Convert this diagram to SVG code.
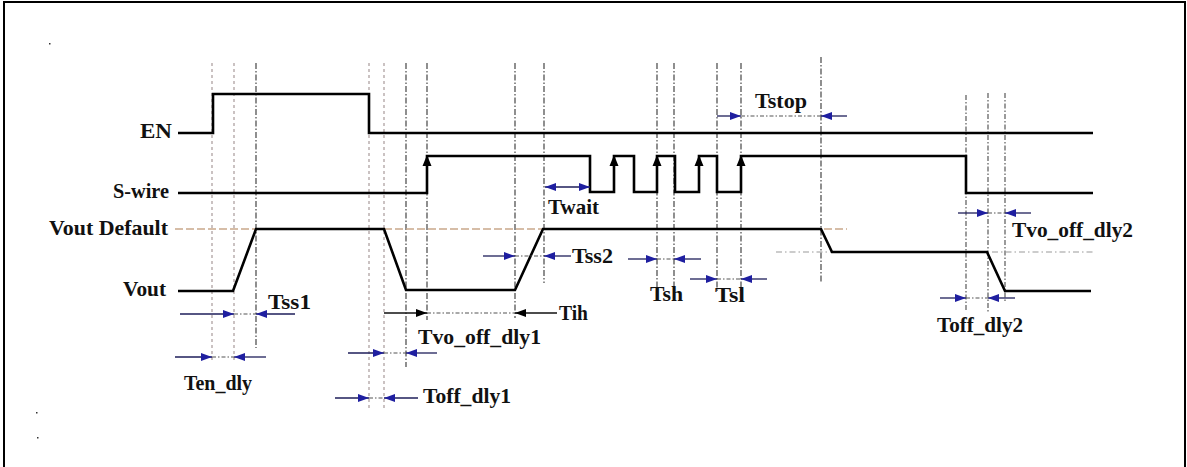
<svg xmlns="http://www.w3.org/2000/svg" width="1187" height="467" viewBox="0 0 1187 467">
<style>
text{font-family:"Liberation Serif","Times New Roman",serif;font-weight:bold;font-size:21px;fill:#111}
.wave{fill:none;stroke:#000;stroke-width:2.6;stroke-linejoin:miter}
.vl{fill:none;stroke:#a89a9a;stroke-width:1.2;stroke-dasharray:3 3}
.vd{fill:none;stroke:#333;stroke-width:1.1;stroke-dasharray:6 2 1.5 2}
.vm{fill:none;stroke:#666;stroke-width:1.3;stroke-dasharray:5 2 1.5 2}
.arr{fill:none;stroke:#1e1e5a;stroke-width:1.3;marker-end:url(#bh)}
.arrk{fill:none;stroke:#111;stroke-width:1.3;marker-end:url(#kh)}
.dd{fill:none;stroke:#555;stroke-width:1.1;stroke-dasharray:4 2 1.5 2}
.ref{fill:none;stroke:#c9a88a;stroke-width:1.3;stroke-dasharray:8 3}
.refg{fill:none;stroke:#999;stroke-width:1.2;stroke-dasharray:6 3 1.5 3}
</style>
<defs>
<marker id="bh" markerUnits="userSpaceOnUse" markerWidth="12" markerHeight="9" refX="11" refY="4" orient="auto-start-reverse"><path d="M0,0 L11,4 L0,8 z" fill="#1f1fa0"/></marker>
<marker id="kh" markerUnits="userSpaceOnUse" markerWidth="12" markerHeight="9" refX="11" refY="4" orient="auto"><path d="M0,0 L11,4 L0,8 z" fill="#000"/></marker>
<path id="up" d="M-4.5,11 L0,0 L4.5,11 z" fill="#000"/>
</defs>
<rect width="1187" height="467" fill="#fff"/>
<path d="M4,467 V2 H1185 V467" fill="none" stroke="#000" stroke-width="2"/>
<rect x="49" y="43" width="1.5" height="1.5" fill="#333"/>
<rect x="36" y="412" width="1.5" height="1.5" fill="#333"/>
<rect x="37" y="437" width="1.5" height="1.5" fill="#333"/>

<g id="guides">
<path class="vl" d="M212,63 V360 M234,63 V360 M369,63 V410 M384,63 V410"/>
<path class="vd" d="M256,63 V348 M406,63 V367 M427,63 V320 M515,63 V318 M544,63 V283 M657,63 V287 M674,63 V287 M717,63 V292 M741,63 V292 M821,57 V282"/>
<path class="vm" d="M966,95 V312 M988,93 V312 M1005,93 V302"/>
<path class="ref" d="M175,229 H847"/>
<path class="refg" d="M776,252 H1093"/>
</g>

<g id="EN">
<text x="140" y="138" textLength="32" lengthAdjust="spacingAndGlyphs">EN</text>
<path class="wave" d="M178,133 H213 V94 H369 V133 H1093"/>
</g>

<g id="S-wire">
<text x="113" y="198" textLength="56" lengthAdjust="spacingAndGlyphs">S-wire</text>
<path class="wave" d="M178,193 H427 V156 H590 V192 H614 V156 H634 V192 H657 V156 H675 V192 H699 V156 H717 V192 H741 V156 H966 V193 H1093"/>
<use href="#up" x="427" y="155"/>
<use href="#up" x="614" y="155"/>
<use href="#up" x="657" y="155"/>
<use href="#up" x="699" y="155"/>
<use href="#up" x="741" y="155"/>
</g>

<g id="Vout-Default">
<text x="49" y="235" textLength="119" lengthAdjust="spacingAndGlyphs">Vout Default</text>
</g>

<g id="Vout">
<text x="123" y="296" textLength="43" lengthAdjust="spacingAndGlyphs">Vout</text>
<path class="wave" d="M178,291 H233 L256,229 H384 L406,290 H515 L543,229 H821 L832,252 H987 L1005,291 H1091"/>
</g>

<g id="connectors">
<!-- Tstop -->
<path class="arr" d="M717,116 H741"/><path class="dd" d="M741,116 H821"/><path class="arr" d="M847,116 H821"/>
<!-- Twait -->
<path class="arr" style="marker-start:url(#bh)" d="M545,187 H590"/>
<!-- Tss2 -->
<path class="arr" d="M483,256 H515"/><path class="dd" d="M515,256 H544"/><path class="arr" d="M571,256 H544"/>
<!-- Tsh -->
<path class="arr" d="M628,259 H657"/><path class="dd" d="M657,259 H674"/><path class="arr" d="M701,259 H674"/>
<!-- Tsl -->
<path class="arr" d="M690,279 H717"/><path class="dd" d="M717,279 H741"/><path class="arr" d="M767,279 H741"/>
<!-- Tss1 -->
<path class="arr" d="M180,314 H234"/><path class="dd" d="M234,314 H256"/><path class="arr" d="M295,314 H256"/>
<!-- Ten_dly -->
<path class="arr" d="M175,357 H212"/><path class="dd" d="M212,357 H234"/><path class="arr" d="M266,357 H234"/>
<!-- Tih -->
<path class="arrk" d="M384,313 H427"/><path class="dd" d="M427,313 H515"/><path class="arrk" d="M557,313 H515"/>
<!-- Tvo_off_dly1 -->
<path class="arr" d="M348,353 H384"/><path class="dd" d="M384,353 H406"/><path class="arr" d="M437,353 H406"/>
<!-- Toff_dly1 -->
<path class="arr" d="M335,398 H369"/><path class="dd" d="M369,398 H384"/><path class="arr" d="M418,398 H384"/>
<!-- Tvo_off_dly2 -->
<path class="arr" d="M958,213 H988"/><path class="dd" d="M988,213 H1005"/><path class="arr" d="M1031,213 H1005"/>
<!-- Toff_dly2 -->
<path class="arr" d="M940,298 H966"/><path class="dd" d="M966,298 H988"/><path class="arr" d="M1015,298 H988"/>
</g>

<g id="labels">
<text x="755" y="108" textLength="52" lengthAdjust="spacingAndGlyphs">Tstop</text>
<text x="548" y="214" textLength="51" lengthAdjust="spacingAndGlyphs">Twait</text>
<text x="572" y="263" textLength="41" lengthAdjust="spacingAndGlyphs">Tss2</text>
<text x="650" y="301" textLength="33" lengthAdjust="spacingAndGlyphs">Tsh</text>
<text x="715" y="302" textLength="30" lengthAdjust="spacingAndGlyphs">Tsl</text>
<text x="268" y="309" textLength="43" lengthAdjust="spacingAndGlyphs">Tss1</text>
<text x="184" y="390" textLength="68" lengthAdjust="spacingAndGlyphs">Ten_dly</text>
<text x="559" y="320" textLength="29" lengthAdjust="spacingAndGlyphs">Tih</text>
<text x="418" y="344" textLength="123" lengthAdjust="spacingAndGlyphs">Tvo_off_dly1</text>
<text x="423" y="403" textLength="88" lengthAdjust="spacingAndGlyphs">Toff_dly1</text>
<text x="1012" y="237" textLength="121" lengthAdjust="spacingAndGlyphs">Tvo_off_dly2</text>
<text x="937" y="332" textLength="86" lengthAdjust="spacingAndGlyphs">Toff_dly2</text>
</g>
</svg>
